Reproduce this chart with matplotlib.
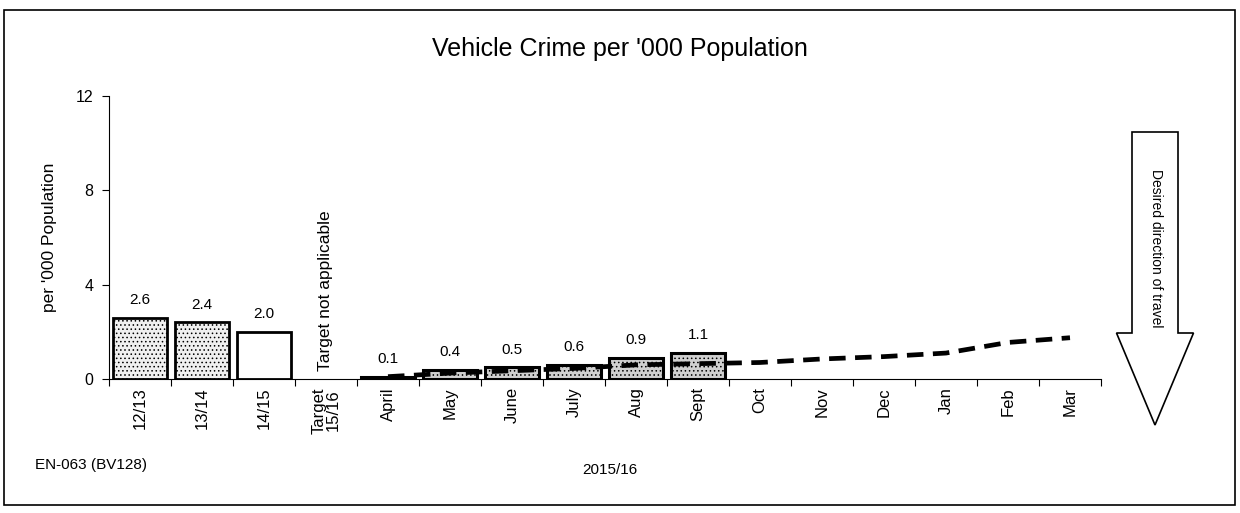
import numpy as np
import matplotlib.pyplot as plt
from matplotlib.patches import FancyArrow, Rectangle

plt.rcParams['font.family'] = ['Liberation Sans', 'DejaVu Sans']
plt.rcParams['hatch.color'] = '#9a9a9a'
plt.rcParams['hatch.linewidth'] = 0.6

# Datos del grafico
categorias = ['12/13', '13/14', '14/15', 'Target\n15/16', 'April', 'May', 'June',
              'July', 'Aug', 'Sept', 'Oct', 'Nov', 'Dec', 'Jan', 'Feb', 'Mar']
anuales = [2.6, 2.4, 2.0]
mensuales = [0.1, 0.4, 0.5, 0.6, 0.9, 1.1]
objetivo = [0.1, 0.25, 0.35, 0.45, 0.6, 0.65, 0.7, 0.85, 0.95, 1.1, 1.55, 1.75]

fig = plt.figure(figsize=(12.4, 5.13), dpi=100)
ax = fig.add_axes([0.0879, 0.2612, 0.8, 0.5517])

# Barras anuales
x_anual = np.arange(len(anuales)) + 0.5
colores = ['#f0f0f0', '#f0f0f0', 'white']
for xi, v, c in zip(x_anual, anuales, colores):
    ax.bar(xi, v, width=0.86, color=c, edgecolor='black', linewidth=2,
           hatch='....' if c != 'white' else None)
    ax.text(xi, v + 0.45, f'{v:.1f}', ha='center', va='bottom', fontsize=11)

# Barras mensuales
x_mes = np.arange(len(mensuales)) + 4.5
ax.bar(x_mes, mensuales, width=0.86, color='#d0d0d0', edgecolor='black',
       linewidth=2.2, hatch='....')
for xi, v in zip(x_mes, mensuales):
    ax.text(xi, v + 0.45, f'{v:.1f}', ha='center', va='bottom', fontsize=11)

# Linea de objetivo acumulado
x_obj = np.arange(len(objetivo)) + 4.5
ax.plot(x_obj, objetivo, color='black', linewidth=3.4, dashes=(3.5, 2))

ax.text(3.5, 0.35, 'Target not applicable', rotation=90, ha='center',
        va='bottom', fontsize=12.5)

ax.set_xlim(0, 16)
ax.set_ylim(0, 12)
ax.set_yticks([0, 4, 8, 12])
ax.set_xticks(np.arange(0, 17))
ax.set_xticklabels([])
ax.set_xticks(np.arange(len(categorias)) + 0.5, minor=True)
ax.set_xticklabels(categorias, minor=True, rotation=90, fontsize=12,
                   va='top', ha='center', linespacing=0.95)
ax.tick_params(axis='x', which='minor', length=0, pad=6)
ax.tick_params(axis='x', which='major', length=5, direction='out')
ax.tick_params(axis='y', length=5, direction='out', labelsize=11.5, pad=6)
ax.spines['top'].set_visible(False)
ax.spines['right'].set_visible(False)
ax.set_ylabel("per '000 Population", fontsize=12.5, labelpad=14)

fig.text(0.5, 0.905, "Vehicle Crime per '000 Population", ha='center',
         va='center', fontsize=18)
fig.text(0.028, 0.093, 'EN-063 (BV128)', ha='left', va='center', fontsize=11)
fig.text(0.492, 0.083, '2015/16', ha='center', va='center', fontsize=11)

# Flecha de direccion deseada
flecha = FancyArrow(1155 / 1240, 1 - 132 / 513, 0, -(425 - 132) / 513,
                    width=46 / 1240, head_width=77 / 1240,
                    head_length=92 / 513, length_includes_head=True,
                    transform=fig.transFigure, facecolor='white',
                    edgecolor='black', linewidth=1.2)
fig.patches.append(flecha)
fig.text(1156 / 1240, 1 - 248 / 513, 'Desired direction of travel',
         rotation=-90, ha='center', va='center', fontsize=10)

# Marco exterior
fig.patches.append(Rectangle((0.003, 0.015), 0.993, 0.965, fill=False,
                             edgecolor='black', linewidth=1.2,
                             transform=fig.transFigure))

fig.savefig('out.png', dpi=100)
